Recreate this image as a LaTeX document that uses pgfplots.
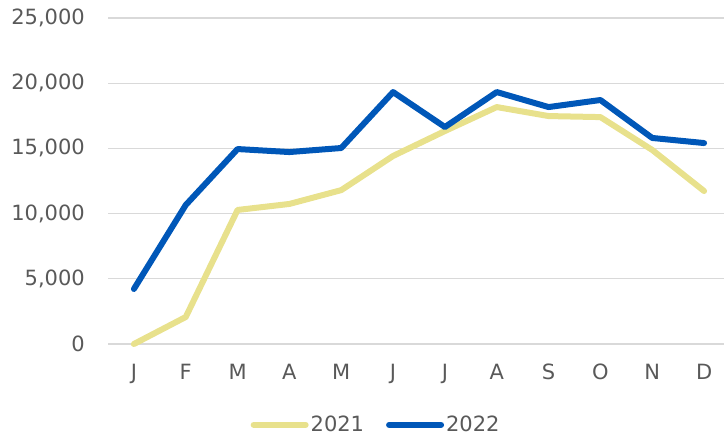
\documentclass[border=0pt]{standalone}
\usepackage{fontspec}
\setmainfont{DejaVu Sans}
\usepackage{pgfplots}
\pgfplotsset{compat=1.18}
\definecolor{yel}{RGB}{232,225,140}
\definecolor{blu}{RGB}{0,87,184}
\definecolor{txt}{RGB}{89,89,89}
\definecolor{grd}{RGB}{217,217,217}
\begin{document}
\begin{tikzpicture}
\useasboundingbox (0bp,0bp) rectangle (724bp,440bp);
\begin{axis}[
  at={(108bp,96bp)}, anchor=south west,
  scale only axis, width=622bp, height=326bp,
  xmin=-0.5, xmax=11.5, ymin=0, ymax=25000,
  axis line style={draw=none},
  major tick length=0pt,
  xtick={0,...,11},
  xticklabels={J,F,M,A,M,J,J,A,S,O,N,D},
  ytick={0,5000,10000,15000,20000,25000},
  ymajorgrids, grid style={grd, line width=1.3bp},
  /pgf/number format/assume math mode=true,
  /pgf/number format/1000 sep={,},
  scaled y ticks=false,
  tick label style={font=\fontsize{21bp}{24bp}\selectfont, text=txt},
  yticklabel style={anchor=east, inner sep=0pt, xshift=-23bp},
  xticklabel style={anchor=north, inner sep=0pt, yshift=-20bp},
  legend columns=2,
  legend style={at={(axis description cs:0.431,-0.248)}, anchor=center, draw=none, fill=none,
    font=\fontsize{21bp}{24bp}\selectfont, text=txt,
    /tikz/every even column/.append style={column sep=20bp}},
  legend image code/.code={\draw[#1, line width=6bp, line cap=round] (0bp,0bp) -- (52bp,0bp);},
  clip=false,
]
\addplot[yel, line width=6bp, line join=round, line cap=round] coordinates {
(0,0) (1,2070) (2,10280) (3,10740) (4,11800) (5,14420) (6,16330) (7,18170) (8,17480) (9,17400) (10,14880) (11,11730)};
\addlegendentry{2021}
\addplot[blu, line width=6bp, line join=round, line cap=round] coordinates {
(0,4220) (1,10660) (2,14950) (3,14720) (4,15030) (5,19320) (6,16640) (7,19320) (8,18170) (9,18710) (10,15800) (11,15410)};
\addlegendentry{2022}
\end{axis}
\end{tikzpicture}
\end{document}
